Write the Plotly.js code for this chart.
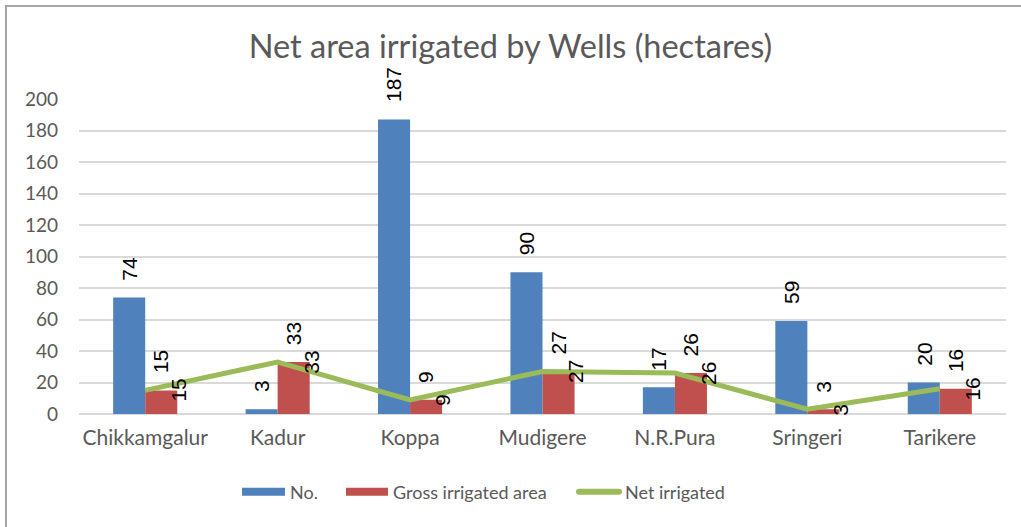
<!DOCTYPE html>
<html>
<head>
<meta charset="utf-8">
<script src="https://cdn.plot.ly/plotly-3.0.1.min.js"></script>
<style>
  html, body { margin: 0; padding: 0; background: #fff; }
  #wrap { position: relative; width: 1021px; height: 527px; overflow: hidden; }
  #chart { position: absolute; left: 0; top: 0; width: 1021px; height: 527px; }
  #border { position: absolute; left: 5px; top: 5px; width: 1100px; height: 600px;
            border-left: 2px solid #a6a6a6; border-top: 2px solid #a6a6a6; pointer-events: none; }
</style>
</head>
<body>
<div id="wrap">
  <div id="chart"></div>
  <div id="border"></div>
</div>
<script>
const categories = ["Chikkamgalur", "Kadur", "Koppa", "Mudigere", "N.R.Pura", "Sringeri", "Tarikere"];
const wellsNo = [74, 3, 187, 90, 17, 59, 20];
const grossIrrigated = [15, 33, 9, 27, 26, 3, 16];
const netIrrigated = [15, 33, 9, 27, 26, 3, 16];
const yTicks = [0, 20, 40, 60, 80, 100, 120, 140, 160, 180, 200];

const yTickFont = { family: "Lato, 'Open Sans', sans-serif", size: 19, color: "#595959" };
const xTickFont = { family: "Lato, 'Open Sans', sans-serif", size: 21, color: "#595959" };
const labelFont = { family: "'Liberation Sans', Arial, sans-serif", size: 21, color: "#000000" };

const traces = [
  { type: "bar", name: "No.", x: categories, y: wellsNo,
    marker: { color: "#4F81BD" }, hoverinfo: "none" },
  { type: "bar", name: "Gross irrigated area", x: categories, y: grossIrrigated,
    marker: { color: "#C0504D" }, hoverinfo: "none" },
  { type: "scatter", mode: "lines", name: "Net irrigated", x: categories, y: netIrrigated,
    line: { color: "#9BBB59", width: 5 }, hoverinfo: "none" }
];

const annotations = [];
categories.forEach((c, i) => {
  annotations.push({ x: c, y: wellsNo[i], text: String(wellsNo[i]), showarrow: false,
    textangle: -90, xanchor: "center", yanchor: "bottom", xshift: -16, yshift: 15, font: labelFont });
  annotations.push({ x: c, y: grossIrrigated[i], text: String(grossIrrigated[i]), showarrow: false,
    textangle: -90, xanchor: "center", yanchor: "bottom", xshift: 16, yshift: 15, font: labelFont });
  annotations.push({ x: c, y: netIrrigated[i], text: String(netIrrigated[i]), showarrow: false,
    textangle: -90, xanchor: "center", yanchor: "middle", xshift: 33, yshift: 0, font: labelFont });
});

const layout = {
  width: 1021, height: 527,
  margin: { l: 79, r: 15, t: 99, b: 113 },
  paper_bgcolor: "rgba(0,0,0,0)", plot_bgcolor: "rgba(0,0,0,0)",
  title: { text: "Net area irrigated by Wells (hectares)", x: 0.5, xanchor: "center",
           y: 1 - 47 / 527, yanchor: "middle", yref: "container",
           font: { family: "Lato, 'Open Sans', sans-serif", size: 32.5, color: "#595959" } },
  barmode: "group", bargap: 0.516, bargroupgap: 0,
  xaxis: { type: "category", tickfont: xTickFont, showgrid: false, zeroline: false,
           showline: false, ticks: "", ticklabelstandoff: 9, fixedrange: true },
  yaxis: { range: [0, 200], tickvals: yTicks, ticktext: yTicks.map(String), tickfont: yTickFont,
           showgrid: true, gridcolor: "#d9d9d9", gridwidth: 2, zeroline: true,
           zerolinecolor: "#d9d9d9", zerolinewidth: 2, showline: false, ticks: "",
           ticklabelstandoff: 20, fixedrange: true },
  showlegend: true,
  legend: { orientation: "h", x: 0.437, xanchor: "center", y: -0.248, yanchor: "middle",
            font: { family: "Lato, 'Open Sans', sans-serif", size: 18, color: "#595959" },
            traceorder: "normal" },
  annotations: annotations
};

function shiftX(el, dx) {
  const tr = el.getAttribute("transform") || "";
  el.setAttribute("transform", (tr + " translate(" + dx + ",0)").trim());
}

Plotly.newPlot("chart", traces, layout, { displayModeBar: false, staticPlot: true }).then(function (gd) {
  // Excel-style legend: wide swatches and Excel item spacing
  const textStarts = [290, 393, 625];
  const swatchStarts = [242, 346, 579];
  const wrapLeft = document.getElementById("wrap").getBoundingClientRect().left;
  gd.querySelectorAll(".legend [clip-path]").forEach(function (el) { el.removeAttribute("clip-path"); });
  const items = gd.querySelectorAll(".legend .traces");
  items.forEach(function (item, k) {
    const txt = item.querySelector("text.legendtext");
    if (txt) {
      const r = txt.getBoundingClientRect();
      shiftX(txt, textStarts[k] - (r.left - wrapLeft));
    }
    let paths = [];
    if (k < 2) {
      paths = Array.from(item.querySelectorAll(".legendpoints path"));
    } else {
      paths = Array.from(item.querySelectorAll("path.js-line"));
    }
    paths.forEach(function (p) {
      if (k < 2) {
        p.setAttribute("d", k === 0 ? "M0,4H43V-4H0Z" : "M0,4H42V-4H0Z");
      } else {
        p.setAttribute("d", "M0,0H40");
        p.style.strokeWidth = "6px";
        p.style.strokeLinecap = "round";
      }
      const pr = p.getBoundingClientRect();
      shiftX(p, swatchStarts[k] - (pr.left - wrapLeft));
    });
  });
});
</script>
</body>
</html>
